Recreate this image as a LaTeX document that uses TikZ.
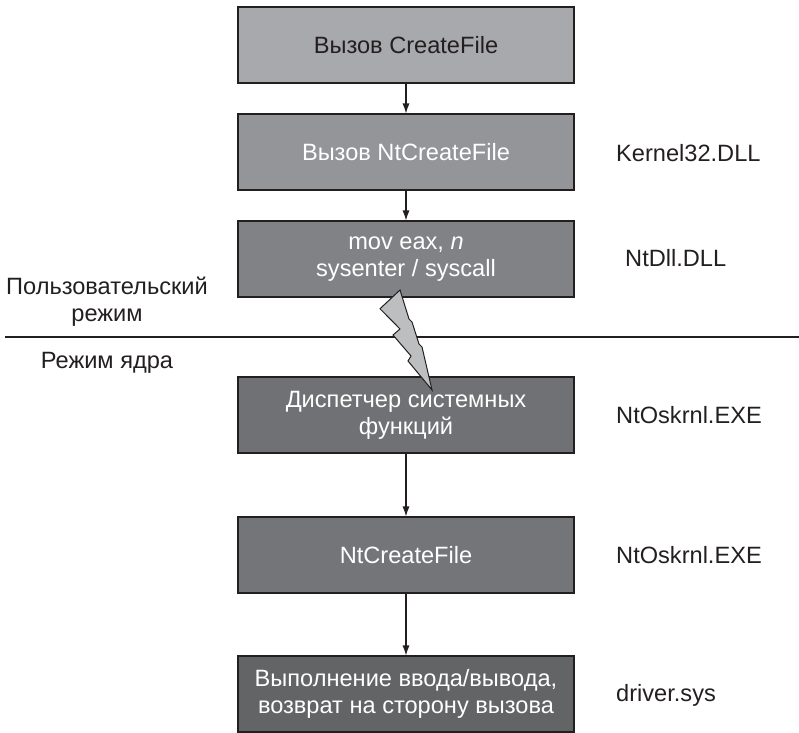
\documentclass[tikz,border=0pt]{standalone}
\usepackage{fontspec}
\setmainfont{Liberation Sans}
\usetikzlibrary{arrows.meta}
\definecolor{inkc}{HTML}{231F20}
\definecolor{boxa}{HTML}{A8A9AD}
\definecolor{boxb}{HTML}{939598}
\definecolor{boxc}{HTML}{808285}
\definecolor{boxd}{HTML}{707174}
\definecolor{boxe}{HTML}{747578}
\definecolor{boxf}{HTML}{636466}
\definecolor{boltc}{HTML}{BCBEC0}
\begin{document}
\begin{tikzpicture}[x=1pt,y=-1pt,
  stagebox/.style={draw=inkc,line width=1.1pt,rectangle,minimum width=336pt,minimum height=76pt,inner sep=0pt,align=center,text=white,font=\fontsize{23.6}{27}\selectfont},
  sidelabel/.style={anchor=west,inner sep=0pt,text=inkc,font=\fontsize{23.6}{27}\selectfont},
  modelabel/.style={inner sep=0pt,align=center,text=inkc,font=\fontsize{23.6}{27}\selectfont},
  flow/.style={draw=inkc,line width=1.1pt,-{Latex[length=10pt,width=7pt]}}]
\useasboundingbox (0,0) rectangle (799,732);
\node[stagebox,fill=boxa,text=inkc] (b1) at (406,45) {Вызов CreateFile};
\node[stagebox,fill=boxb] (b2) at (406,152) {Вызов NtCreateFile};
\node[stagebox,fill=boxc] (b3) at (406,259) {mov eax, \textit{n}\\sysenter / syscall};
\node[stagebox,fill=boxd] (b4) at (406,415) {Диспетчер системных\\функций};
\node[stagebox,fill=boxe] (b5) at (406,555) {NtCreateFile};
\node[stagebox,fill=boxf] (b6) at (406,694) {Выполнение ввода/вывода,\\возврат на сторону вызова};
\node[sidelabel] (l2) at (616,153) {Kernel32.DLL};
\node[sidelabel] (l3) at (625,258) {NtDll.DLL};
\node[sidelabel] (l4) at (616,415) {NtOskrnl.EXE};
\node[sidelabel] (l5) at (616,555) {NtOskrnl.EXE};
\node[sidelabel] (l6) at (616,695) {driver.sys};
\node[modelabel] (um) at (107,302) {Пользовательский\\режим};
\node[modelabel] (km) at (107,363) {Режим ядра};
\coordinate (sepl) at (5,337);
\coordinate (sepr) at (799,337);
\draw[draw=inkc,line width=1.1pt] (sepl) -- (sepr);
\draw[flow] (b1) -- (b2);
\draw[flow] (b2) -- (b3);
\draw[flow] (b4) -- (b5);
\draw[flow] (b5) -- (b6);
\draw[draw=inkc,fill=boltc,line width=1pt,line join=miter]
  (400,290) -- (380,308.7) -- (400,329) -- (393,335) -- (411,356) -- (408,361)
  -- (432,390) -- (422,347) -- (419,344) -- (412,322) -- (409,319) -- cycle;
\end{tikzpicture}
\end{document}
